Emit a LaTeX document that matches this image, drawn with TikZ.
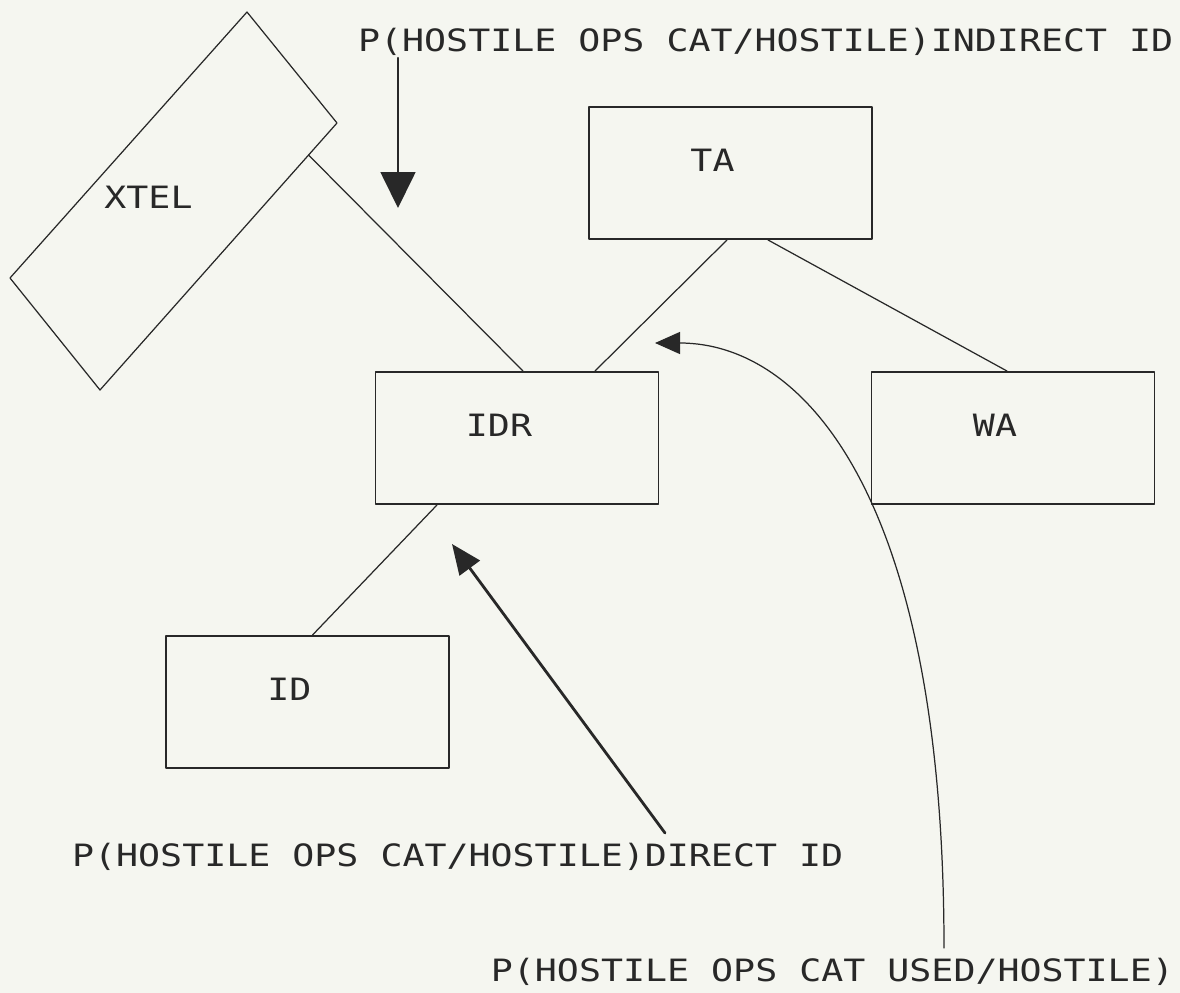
\documentclass[tikz,border=0pt]{standalone}
\usepackage{fontspec}
\newfontfamily\plotfont[FakeStretch=1.19]{DejaVu Sans Mono}
\usetikzlibrary{arrows.meta,calc}
\definecolor{paper}{RGB}{245,246,240}
\definecolor{ink}{RGB}{40,40,40}

\begin{document}
\begin{tikzpicture}[line cap=round,line join=round,
  plottext/.style={font=\plotfont\fontsize{17.5}{19}\selectfont,text=ink,inner sep=1pt},
  box/.style={draw=ink,line width=1.1pt,minimum width=5.66cm,minimum height=2.64cm,inner sep=0pt},
  boxname/.style={plottext,xshift=-0.36cm,yshift=0.26cm},
  link/.style={draw=ink,line width=0.7pt}]
  \useasboundingbox (0,0) rectangle (23.6,-19.86);
  \fill[paper] (0,0) rectangle (23.6,-19.86);

  % corners of the tilted XTEL box
  \coordinate (xtl) at (0.2,-5.56);
  \coordinate (xtt) at (4.94,-0.24);
  \coordinate (xtr) at (6.74,-2.46);
  \coordinate (xtb) at (2.0,-7.8);
  \draw[link] (xtl) -- (xtt) -- (xtr) -- (xtb) -- cycle;
  \node[plottext] (xtel) at (2.97,-3.94) {XTEL};

  % the four boxes
  \node[box,label={[boxname]center:TA}] (TA) at (14.61,-3.46) {};
  \node[box,label={[boxname]center:IDR}] (IDR) at (10.34,-8.76) {};
  \node[box,label={[boxname]center:WA}] (WA) at (20.26,-8.76) {};
  \node[box,label={[boxname]center:ID}] (ID) at (6.15,-14.04) {};

  \draw[link] ($(xtr)!0.12!(xtb)$) -- ([xshift=0.12cm]IDR.north);
  \draw[link] ([xshift=-0.07cm]TA.south) -- ([xshift=1.56cm]IDR.north);
  \draw[link] ([xshift=0.75cm]TA.south) -- ([xshift=-0.12cm]WA.north);
  \draw[link] ([xshift=-1.6cm]IDR.south) -- ([xshift=0.1cm]ID.north);

  % probability labels and their pointers
  \node[plottext,anchor=west] (indirect) at (7.12,-0.84) {P(HOSTILE OPS CAT/HOSTILE)INDIRECT ID};
  \node[plottext,anchor=west] (direct) at (1.4,-17.14) {P(HOSTILE OPS CAT/HOSTILE)DIRECT ID};
  \node[plottext,anchor=east] (used) at (23.52,-19.44) {P(HOSTILE OPS CAT USED/HOSTILE)};

  \coordinate (indtip) at (7.96,-4.16);
  \coordinate (dirtip) at (9.04,-10.88);
  \coordinate (dirfoot) at (13.3,-16.66);
  \coordinate (usedtip) at (13.1,-6.86);
  \coordinate (usedfoot) at (18.88,-18.96);

  \draw[ink,line width=1pt,-{Triangle[length=0.72cm,width=0.7cm]}] (indtip |- indirect.south) -- (indtip);
  \draw[ink,line width=1.6pt,-{Triangle[length=0.6cm,width=0.5cm]}] (dirfoot) -- (dirtip);
  \draw[ink,line width=0.7pt,-{Triangle[length=0.5cm,width=0.44cm]}] (usedfoot) .. controls (18.88,-9.96) and (16.1,-6.86) .. (usedtip);
\end{tikzpicture}
\end{document}
